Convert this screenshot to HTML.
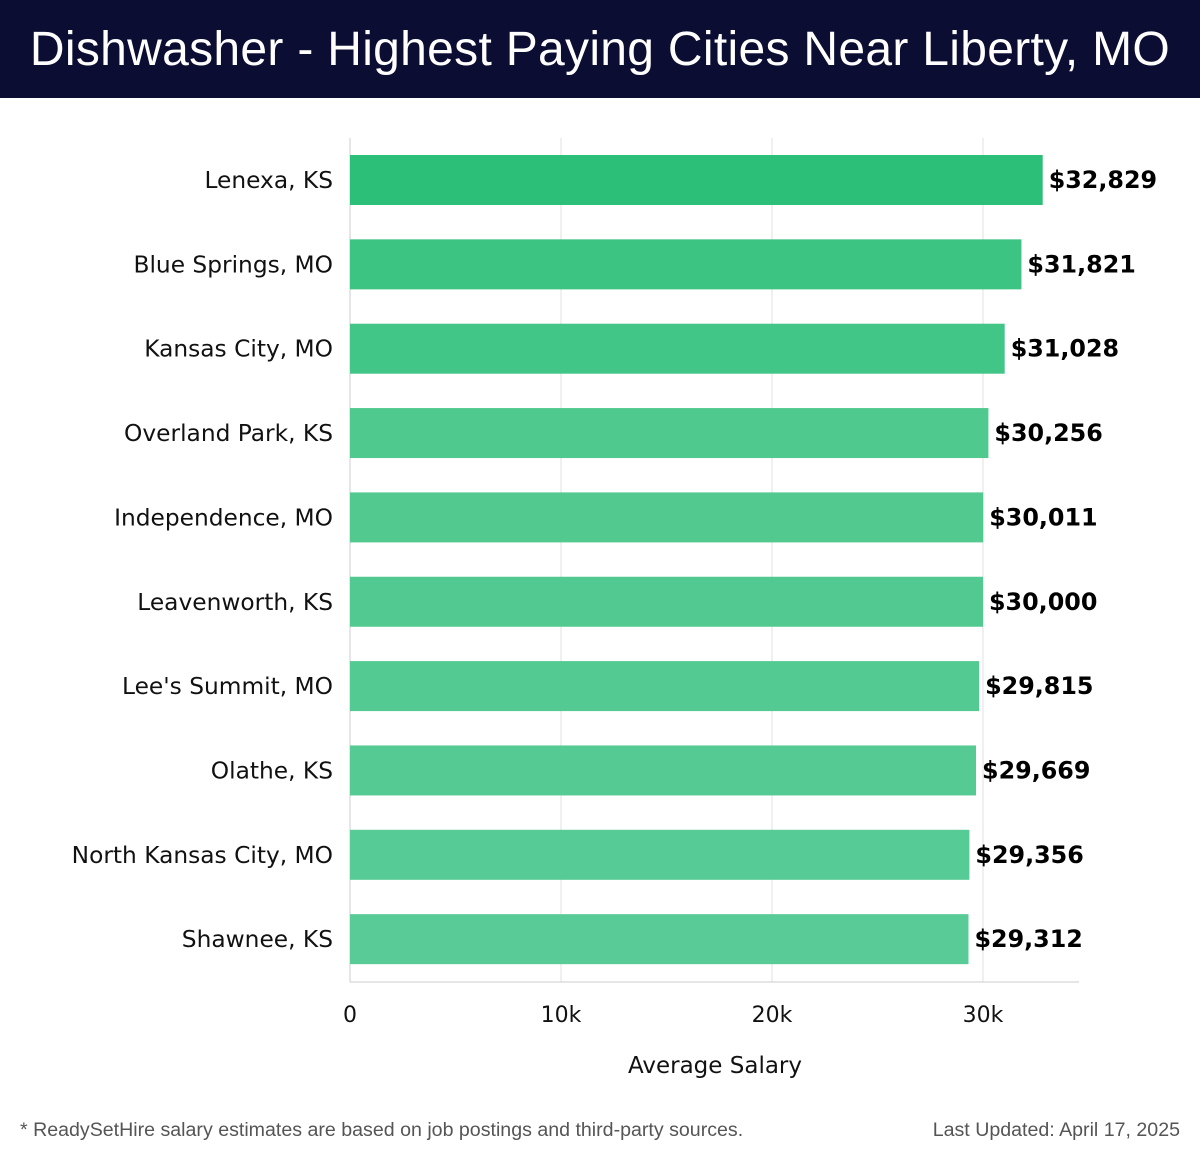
<!DOCTYPE html>
<html><head><meta charset="utf-8"><style>
body{margin:0;width:1200px;height:1158px;background:#fff;font-family:"Liberation Sans","DejaVu Sans",sans-serif;overflow:hidden}
#hdr{position:absolute;left:0;top:0;width:1200px;height:98px;background:#0b0d33;color:#fff;font-size:48px;text-align:center;line-height:100px;letter-spacing:0.3px}
svg{position:absolute;left:0;top:0;font-family:"DejaVu Sans",sans-serif}
.foot{position:absolute;top:1119px;font-size:19.6px;color:#555}
</style></head><body>
<div id="hdr">Dishwasher - Highest Paying Cities Near Liberty, MO</div>
<svg id="c" width="1200" height="1158"></svg>
<div class="foot" style="left:20px">* ReadySetHire salary estimates are based on job postings and third-party sources.</div>
<div class="foot" style="right:20px">Last Updated: April 17, 2025</div>
<script>
const categories=["Lenexa, KS","Blue Springs, MO","Kansas City, MO","Overland Park, KS","Independence, MO","Leavenworth, KS","Lee's Summit, MO","Olathe, KS","North Kansas City, MO","Shawnee, KS"];
const values=[32829,31821,31028,30256,30011,30000,29815,29669,29356,29312];
const ticks=[0,10000,20000,30000];
const tickLabels=["0","10k","20k","30k"];
const colors=["#2bbf77","#3bc482","#42c687","#4fc98e","#51c98f","#52c990","#53ca92","#55ca93","#57cb95","#58cb96"];
const NS="http://www.w3.org/2000/svg";
const svg=document.getElementById('c');
const x0=350,pxPer=633/30000,top0=138,band=84.35,barH=50;
const xs=v=>x0+v*pxPer;
const yb=i=>top0+17+i*band;
function mk(t,a){const e=document.createElementNS(NS,t);for(const k in a)e.setAttribute(k,a[k]);svg.appendChild(e);return e;}
ticks.forEach((t,i)=>{
 const g=mk('line',{x1:xs(t),x2:xs(t),y1:138,y2:982,stroke:i?'#e0e0e0':'#ccc','stroke-width':1});
 
 
 const l=mk('text',{x:xs(t),y:1022,'text-anchor':'middle','font-size':22,fill:'#111'});
 l.textContent=tickLabels[i];
 
 
});
const ax=mk('line',{x1:350,x2:1079,y1:982,y2:982,stroke:'#ccc'});


const at=mk('text',{x:715,y:1073,'text-anchor':'middle','font-size':23,fill:'#111'});
at.textContent='Average Salary';


categories.forEach((c,i)=>{
 const y=yb(i);
 const r=mk('rect',{x:x0,y:y,width:xs(values[i])-x0,height:barH,fill:colors[i]});
 
 
 const l=mk('text',{x:333,y:y+barH/2+8,'text-anchor':'end','font-size':23.3,fill:'#111'});
 l.textContent=c;
 
 
 const v=mk('text',{x:xs(values[i])+6,y:y+barH/2+8,'font-size':23.8,'font-weight':'bold',fill:'#000'});
 v.textContent='$'+values[i].toLocaleString('en-US');
 
 
});
</script>
</body></html>
